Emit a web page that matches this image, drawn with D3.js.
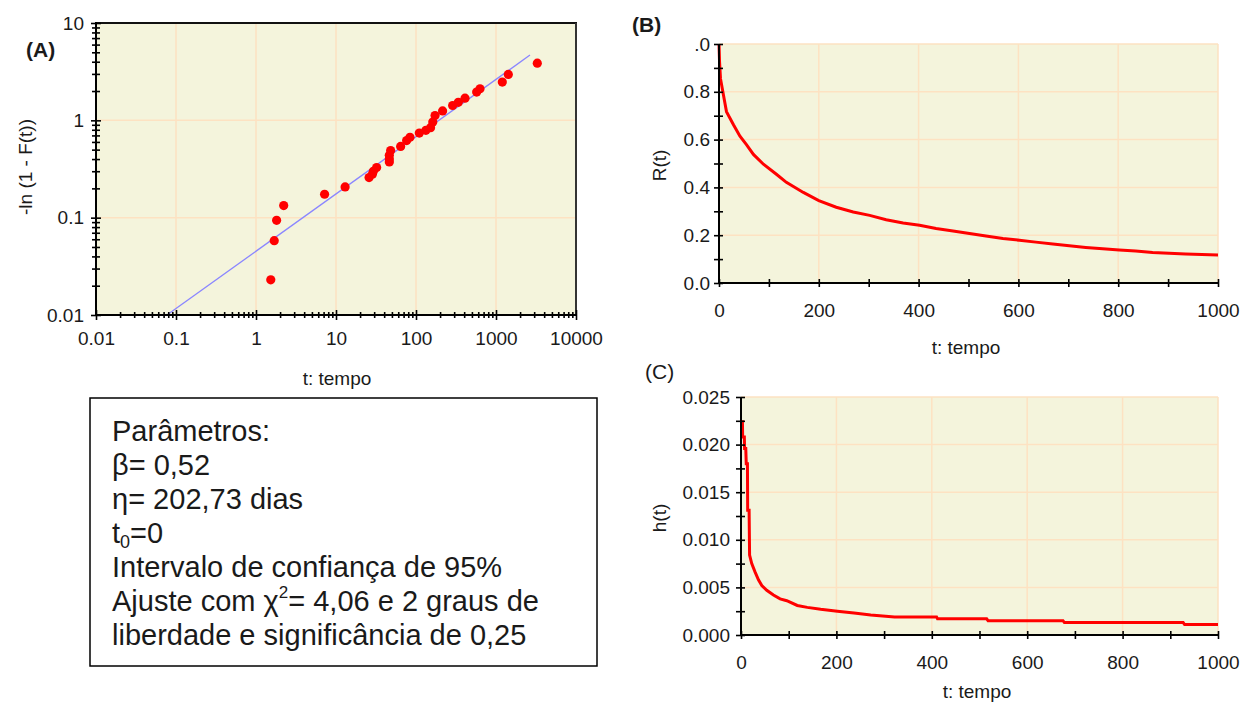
<!DOCTYPE html>
<html>
<head>
<meta charset="utf-8">
<script src="https://cdn.jsdelivr.net/npm/d3@7"></script>
<style>
  html, body { margin: 0; padding: 0; background: #ffffff; }
  svg text { font-family: "Liberation Sans", Arial, sans-serif; fill: #1a1a1a; }
</style>
</head>
<body>
<svg id="chart" width="1249" height="711"></svg>
<script>
// ---------------- DATA ----------------
// Panel A: Weibull probability plot
const tA = [1.53, 1.69, 1.81, 2.22, 7.2, 13.0, 25.9, 28.5, 29.3, 32.2, 46.4, 46.4, 46.4, 48.2, 64.3, 76.4, 84.1, 110, 133, 152, 162, 173, 215, 287, 338, 410, 573, 631, 1199, 1425, 3283];
const vA = [0.023, 0.058, 0.094, 0.133, 0.174, 0.207, 0.258, 0.28, 0.30, 0.327, 0.373, 0.40, 0.438, 0.49, 0.54, 0.62, 0.67, 0.74, 0.79, 0.84, 0.96, 1.12, 1.25, 1.42, 1.53, 1.69, 1.95, 2.11, 2.47, 2.96, 3.87];
const fitT = [0.077, 2660];
const fitV = [0.01, 4.68];
const xTickLabelsA = ["0.01", "0.1", "1", "10", "100", "1000", "10000"];
const yTickLabelsA = ["0.01", "0.1", "1", "10"];

// Panel B: reliability R(t)
const tB = [0, 1, 3, 9, 15, 29, 42, 55, 69, 89, 115, 135, 169, 200, 235, 269, 302, 335, 369, 402, 435, 469, 502, 535, 569, 602, 635, 669, 702, 735, 769, 802, 835, 869, 902, 935, 1000];
const rB = [1.0, 0.93, 0.855, 0.786, 0.717, 0.662, 0.614, 0.579, 0.538, 0.497, 0.455, 0.421, 0.379, 0.345, 0.317, 0.297, 0.283, 0.265, 0.251, 0.242, 0.228, 0.218, 0.207, 0.197, 0.186, 0.179, 0.171, 0.163, 0.156, 0.149, 0.143, 0.138, 0.134, 0.128, 0.124, 0.121, 0.117];
const xTickLabelsB = ["0", "200", "400", "600", "800", "1000"];
const yTickLabelsB = ["0.0", "0.2", "0.4", "0.6", "0.8", ".0"];

// Panel C: hazard h(t)
const tC = [0, 3, 3.5, 7, 7.5, 10, 11, 13.5, 14, 17, 18, 22.5, 29.6, 36.6, 43.6, 54, 68, 82, 96, 118, 139, 167, 202, 237, 272, 322, 378, 410, 412, 515, 518, 675, 678, 927, 930, 1000];
const hC = [0.0224, 0.0224, 0.0208, 0.0208, 0.0196, 0.0196, 0.018, 0.018, 0.0131, 0.0131, 0.0084, 0.0075, 0.0066, 0.0058, 0.0052, 0.0047, 0.0042, 0.0038, 0.0036, 0.0031, 0.0029, 0.0027, 0.0025, 0.0023, 0.0021, 0.0019, 0.0019, 0.0019, 0.0017, 0.0017, 0.0015, 0.0015, 0.0013, 0.0013, 0.0011, 0.0011];
const xTickLabelsC = ["0", "200", "400", "600", "800", "1000"];
const yTickLabelsC = ["0.000", "0.005", "0.010", "0.015", "0.020", "0.025"];

const boxLines = ["Parâmetros:", "β= 0,52", "η= 202,73 dias", "t0=0", "Intervalo de confiança de 95%", "Ajuste com χ2= 4,06 e 2 graus de", "liberdade e significância de 0,25"];

// ---------------- STYLE ----------------
const BG = "#f4f4dc", GRID = "#fde2c2", RED = "#ff0000", FIT = "#8a86ff";
const svg = d3.select("#chart");
const FS = 19;

function styleAxis(g) {
  g.select(".domain").remove();
  g.selectAll("line").attr("stroke", "#000").attr("stroke-width", 1.6);
  g.selectAll("text").style("font-size", FS + "px").attr("fill", "#1a1a1a");
}

// ================= PANEL A =================
(function () {
  const x = d3.scaleLog().domain([0.01, 10000]).range([96, 576]);
  const y = d3.scaleLog().domain([0.01, 10]).range([315, 23]);
  const g = svg.append("g");
  g.append("rect").attr("x", 96).attr("y", 23).attr("width", 480).attr("height", 292).attr("fill", BG);
  const decX = x.ticks().filter(d => Math.abs(Math.log10(d) - Math.round(Math.log10(d))) < 1e-9);
  const decY = y.ticks().filter(d => Math.abs(Math.log10(d) - Math.round(Math.log10(d))) < 1e-9);
  g.selectAll(".gx").data(decX.slice(1, -1)).join("line")
    .attr("x1", d => x(d)).attr("x2", d => x(d)).attr("y1", 23).attr("y2", 315)
    .attr("stroke", GRID).attr("stroke-width", 1.5);
  g.selectAll(".gy").data(decY.slice(1, -1)).join("line")
    .attr("y1", d => y(d)).attr("y2", d => y(d)).attr("x1", 96).attr("x2", 576)
    .attr("stroke", GRID).attr("stroke-width", 1.5);

  // fitted line
  const fit = fitT.map((t, i) => [t, fitV[i]]);
  g.append("path").datum(fit)
    .attr("d", d3.line().x(d => x(d[0])).y(d => y(d[1])))
    .attr("stroke", FIT).attr("stroke-width", 1.3).attr("fill", "none");

  // points
  g.selectAll(".pt").data(tA.map((t, i) => [t, vA[i]])).join("circle")
    .attr("cx", d => x(d[0])).attr("cy", d => y(d[1])).attr("r", 4.6).attr("fill", RED);

  // border
  g.append("line").attr("x1", 96).attr("x2", 577).attr("y1", 23).attr("y2", 23).attr("stroke", "#111").attr("stroke-width", 2);
  g.append("line").attr("x1", 576).attr("x2", 576).attr("y1", 23).attr("y2", 315).attr("stroke", "#333").attr("stroke-width", 2);

  const isDec = d => Math.abs(Math.log10(d) - Math.round(Math.log10(d))) < 1e-9;
  const fmtX = d => isDec(d) ? xTickLabelsA[Math.round(Math.log10(d)) + 2] : "";
  const fmtY = d => isDec(d) ? yTickLabelsA[Math.round(Math.log10(d)) + 2] : "";
  const xt = x.ticks();
  const yt = y.ticks();

  const axB1 = g.append("g").attr("transform", "translate(0,315)")
    .call(d3.axisBottom(x).tickValues(xt.filter(d => !isDec(d))).tickSize(3).tickFormat(""));
  const axB2 = g.append("g").attr("transform", "translate(0,315)")
    .call(d3.axisTop(x).tickValues(xt.filter(d => !isDec(d))).tickSize(3).tickFormat(""));
  const axB3 = g.append("g").attr("transform", "translate(0,315)")
    .call(d3.axisBottom(x).tickValues(xt.filter(isDec)).tickSize(5).tickPadding(12).tickFormat(fmtX));
  const axB4 = g.append("g").attr("transform", "translate(0,315)")
    .call(d3.axisTop(x).tickValues(xt.filter(isDec)).tickSize(5).tickFormat(""));
  [axB1, axB2, axB3, axB4].forEach(styleAxis);

  const axL1 = g.append("g").attr("transform", "translate(96,0)")
    .call(d3.axisLeft(y).tickValues(yt.filter(d => !isDec(d))).tickSize(4).tickFormat(""));
  const axL2 = g.append("g").attr("transform", "translate(96,0)")
    .call(d3.axisRight(y).tickValues(yt.filter(d => !isDec(d))).tickSize(4).tickFormat(""));
  const axL3 = g.append("g").attr("transform", "translate(96,0)")
    .call(d3.axisLeft(y).tickValues(yt.filter(isDec)).tickSize(5).tickPadding(7).tickFormat(fmtY));
  const axL4 = g.append("g").attr("transform", "translate(96,0)")
    .call(d3.axisRight(y).tickValues(yt.filter(isDec)).tickSize(5).tickFormat(""));
  [axL1, axL2, axL3, axL4].forEach(styleAxis);

  g.append("line").attr("x1", 96).attr("x2", 96).attr("y1", 22).attr("y2", 316).attr("stroke", "#000").attr("stroke-width", 2);
  g.append("line").attr("x1", 95).attr("x2", 577).attr("y1", 315).attr("y2", 315).attr("stroke", "#000").attr("stroke-width", 2);

  g.append("text").attr("x", 337).attr("y", 385).attr("text-anchor", "middle").style("font-size", FS + "px").text("t: tempo");
  g.append("text").attr("transform", "translate(32,167) rotate(-90)").attr("text-anchor", "middle").style("font-size", FS + "px").text("-ln (1 - F(t))");
  g.append("text").attr("x", 26).attr("y", 57).style("font-size", "21px").style("font-weight", "bold").text("(A)");
})();

// ============ generic linear panel ============
function linearPanel(opt) {
  const { x0, x1, y0, y1, xDom, yDom, xMajor, yMajor, xMinor, yMinor, xLabels, yLabels, xs, ys, yTitle, yTitleX, xTitleX, xTitleY, labelPad } = opt;
  const x = d3.scaleLinear().domain(xDom).range([x0, x1]);
  const y = d3.scaleLinear().domain(yDom).range([y1, y0]);
  const g = svg.append("g");
  g.append("rect").attr("x", x0).attr("y", y0).attr("width", x1 - x0).attr("height", y1 - y0).attr("fill", BG);
  g.selectAll(".gx").data(xMajor.slice(1)).join("line")
    .attr("x1", d => x(d)).attr("x2", d => x(d)).attr("y1", y0).attr("y2", y1)
    .attr("stroke", GRID).attr("stroke-width", 1.5);
  g.selectAll(".gy").data(yMajor.slice(1)).join("line")
    .attr("y1", d => y(d)).attr("y2", d => y(d)).attr("x1", x0).attr("x2", x1)
    .attr("stroke", GRID).attr("stroke-width", 1.5);

  g.append("path").datum(xs.map((t, i) => [t, ys[i]]))
    .attr("d", d3.line().x(d => x(d[0])).y(d => y(d[1])))
    .attr("stroke", RED).attr("stroke-width", 3).attr("fill", "none").attr("stroke-linejoin", "miter");

  const a1 = g.append("g").attr("transform", `translate(0,${y1})`)
    .call(d3.axisBottom(x).tickValues(xMinor).tickSize(4).tickFormat(""));
  const a2 = g.append("g").attr("transform", `translate(0,${y1})`)
    .call(d3.axisTop(x).tickValues(xMinor).tickSize(4).tickFormat(""));
  const a3 = g.append("g").attr("transform", `translate(0,${y1})`)
    .call(d3.axisBottom(x).tickValues(xMajor).tickSize(0).tickPadding(labelPad.x).tickFormat((d, i) => xLabels[i]));
  const b1 = g.append("g").attr("transform", `translate(${x0},0)`)
    .call(d3.axisLeft(y).tickValues(yMinor).tickSize(5).tickFormat(""));
  const b2 = g.append("g").attr("transform", `translate(${x0},0)`)
    .call(d3.axisRight(y).tickValues(yMinor).tickSize(4).tickFormat(""));
  const b3 = g.append("g").attr("transform", `translate(${x0},0)`)
    .call(d3.axisLeft(y).tickValues(yMajor).tickSize(0).tickPadding(labelPad.y).tickFormat((d, i) => yLabels[i]));
  [a1, a2, a3, b1, b2, b3].forEach(styleAxis);

  g.append("line").attr("x1", x0).attr("x2", x0).attr("y1", y0).attr("y2", y1 + 1).attr("stroke", "#000").attr("stroke-width", 2);
  g.append("line").attr("x1", x0 - 1).attr("x2", x1).attr("y1", y1).attr("y2", y1).attr("stroke", "#000").attr("stroke-width", 2);

  g.append("text").attr("x", xTitleX).attr("y", xTitleY).attr("text-anchor", "middle").style("font-size", FS + "px").text("t: tempo");
  g.append("text").attr("transform", `translate(${yTitleX},${(y0 + y1) / 2 + 2}) rotate(-90)`).attr("text-anchor", "middle").style("font-size", FS + "px").text(yTitle);
}

const range = (a, b, s) => d3.range(a, b + s / 2, s);

linearPanel({
  x0: 719, x1: 1218, y0: 44, y1: 283,
  xDom: [0, 1000], yDom: [0, 1],
  xMajor: range(0, 1000, 200), yMajor: range(0, 1, 0.2),
  xMinor: range(0, 1000, 100), yMinor: range(0, 1, 0.1),
  xLabels: xTickLabelsB, yLabels: yTickLabelsB,
  xs: tB, ys: rB, yTitle: "R(t)", yTitleX: 666,
  xTitleX: 966, xTitleY: 354, labelPad: { x: 21, y: 9 }
});
linearPanel({
  x0: 741, x1: 1218, y0: 397, y1: 635,
  xDom: [0, 1000], yDom: [0, 0.025],
  xMajor: range(0, 1000, 200), yMajor: range(0, 0.025, 0.005),
  xMinor: range(0, 1000, 100), yMinor: range(0, 0.025, 0.0025),
  xLabels: xTickLabelsC, yLabels: yTickLabelsC,
  xs: tC, ys: hC, yTitle: "h(t)", yTitleX: 666,
  xTitleX: 977, xTitleY: 698, labelPad: { x: 21, y: 11 }
});

svg.append("text").attr("x", 632).attr("y", 32).style("font-size", "21px").style("font-weight", "bold").text("(B)");
svg.append("text").attr("x", 645).attr("y", 379).style("font-size", "21px").text("(C)");

// ================= TEXT BOX =================
(function () {
  const g = svg.append("g");
  g.append("rect").attr("x", 90).attr("y", 398).attr("width", 507).attr("height", 268)
    .attr("fill", "#fff").attr("stroke", "#000").attr("stroke-width", 1.5);
  const fs = 29;
  boxLines.forEach((line, i) => {
    const t = g.append("text").attr("x", 112).attr("y", 441 + i * 34).style("font-size", fs + "px").attr("fill", "#000");
    if (i === 3) {
      t.append("tspan").text("t");
      t.append("tspan").attr("dy", 5).style("font-size", "18px").text("0");
      t.append("tspan").attr("dy", -5).text("=0");
    } else if (i === 5) {
      t.append("tspan").text("Ajuste com χ");
      t.append("tspan").attr("dy", -13).style("font-size", "17px").text("2");
      t.append("tspan").attr("dy", 13).text("= 4,06 e 2 graus de");
    } else {
      t.text(line);
    }
  });
})();
</script>
</body>
</html>
